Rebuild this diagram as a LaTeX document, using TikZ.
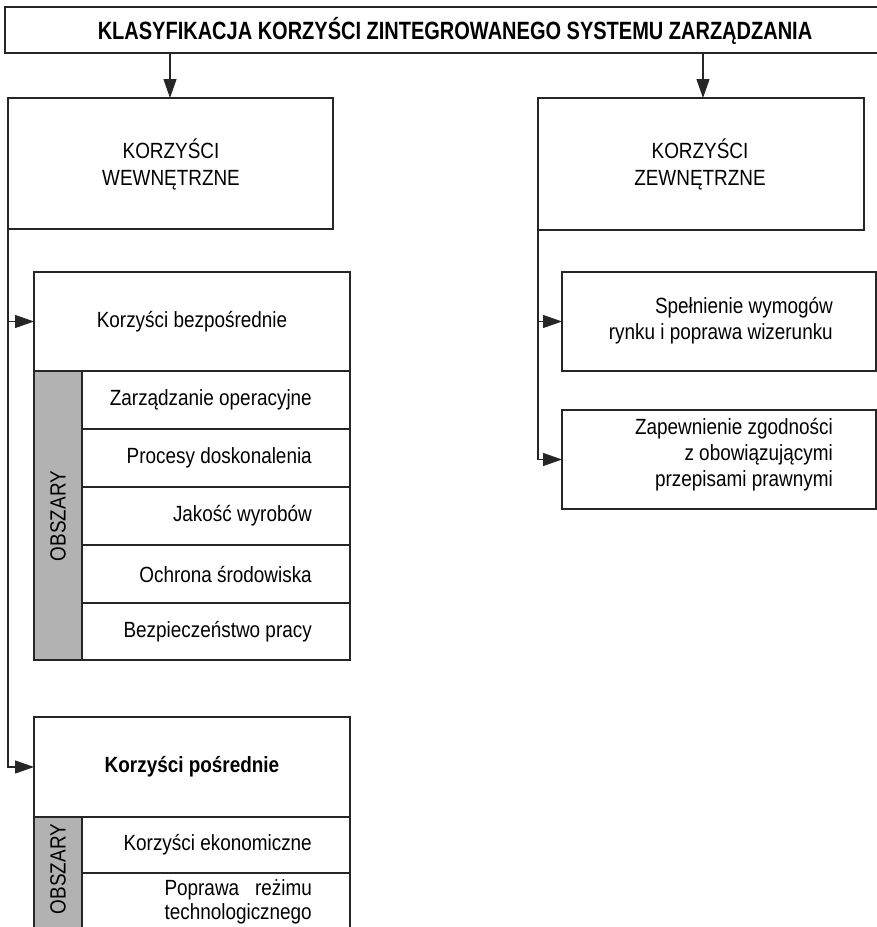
\documentclass[tikz,border=0pt]{standalone}
\usepackage{fontspec}
\setmainfont{Liberation Sans}[FakeStretch=0.86]
\newfontfamily\titlefont{Liberation Sans}[FakeStretch=0.80]
\usetikzlibrary{arrows.meta}
\begin{document}
\begin{tikzpicture}[x=1pt,y=-1pt,
  frame/.style={draw=black!85, line width=1.2pt},
  conn/.style={draw=black!85, line width=1.2pt, -{Triangle[length=19pt,width=13pt]}},
  txt/.style={font=\fontsize{22}{26}\selectfont, inner sep=0pt},
  strip/.style={frame, fill=black!30},
]
\useasboundingbox (0,0) rectangle (877,927);
\clip (0,0) rectangle (877,927);

% heading
\draw[frame] (885,7) -- (5,7) -- (5,53) -- (885,53);
\node[txt, font=\titlefont\bfseries\fontsize{25}{28}\selectfont] (title) at (455,31)
  {KLASYFIKACJA KORZYŚCI ZINTEGROWANEGO SYSTEMU ZARZĄDZANIA};
\coordinate (tl) at (170,53);
\coordinate (tr) at (703,53);

% two main groups
\draw[frame] (8,98) rectangle (333,229);
\coordinate (wew) at (8,229);
\coordinate (wewtop) at (170,98);
\node[txt, align=center, font=\fontsize{22}{27}\selectfont] (wewt) at (171,164) {KORZYŚCI\\WEWNĘTRZNE};

\draw[frame] (538,98) rectangle (864,230);
\coordinate (zew) at (538,230);
\coordinate (zewtop) at (703,98);
\node[txt, align=center, font=\fontsize{22}{27}\selectfont] (zewt) at (700,164) {KORZYŚCI\\ZEWNĘTRZNE};

\draw[conn] (tl) -- (wewtop);
\draw[conn] (tr) -- (zewtop);

% direct benefits
\draw[frame] (34,272) rectangle (350,371);
\coordinate (bez) at (34,321.5);
\node[txt] (bezt) at (192,322) {Korzyści bezpośrednie};
\draw[strip] (34,371) rectangle (82,660);
\node[txt, rotate=90] (obs1) at (58,516) {OBSZARY};
\foreach \ya/\yb in {371/429,429/487,487/545,545/603,603/660}
  \draw[frame] (82,\ya) rectangle (350,\yb);
\node[txt, anchor=east] (a1) at (312,400) {Zarządzanie operacyjne};
\node[txt, anchor=east] (a2) at (312,458) {Procesy doskonalenia};
\node[txt, anchor=east] (a3) at (312,516) {Jakość wyrobów};
\node[txt, anchor=east] (a4) at (312,574) {Ochrona środowiska};
\node[txt, anchor=east] (a5) at (312,632) {Bezpieczeństwo pracy};

% indirect benefits
\draw[frame] (34,717) rectangle (350,817);
\coordinate (pos) at (34,767);
\node[txt, font=\bfseries\fontsize{22}{26}\selectfont] (post) at (192,767) {Korzyści pośrednie};
\draw[strip] (34,817) rectangle (82,940);
\node[txt, rotate=90] (obs2) at (58,869) {OBSZARY};
\draw[frame] (82,817) rectangle (350,873);
\draw[frame] (82,873) rectangle (350,940);
\node[txt, anchor=east] (b1) at (312,845) {Korzyści ekonomiczne};
\node[txt, anchor=base east] (b2c) at (312,919) {technologicznego};
\node[txt, anchor=base east] (b2b) at (312,895) {reżimu};
\node[txt, anchor=base west] (b2a) at (b2c.west |- b2b.base) {Poprawa};

% external benefits
\draw[frame] (562,272) rectangle (876,371);
\coordinate (r1) at (562,321.5);
\node[txt, align=right, anchor=east] (r1t) at (833,321) {Spełnienie wymogów\\rynku i poprawa wizerunku};
\draw[frame] (562,410) rectangle (876,509);
\coordinate (r2) at (562,459.5);
\node[txt, align=right, anchor=east] (r2t) at (833,455) {Zapewnienie zgodności\\z obowiązującymi\\przepisami prawnymi};

% connectors
\draw[conn] (wew) |- (bez);
\draw[conn] (wew) |- (pos);
\draw[conn] (zew) |- (r1);
\draw[conn] (zew) |- (r2);
\end{tikzpicture}
\end{document}
